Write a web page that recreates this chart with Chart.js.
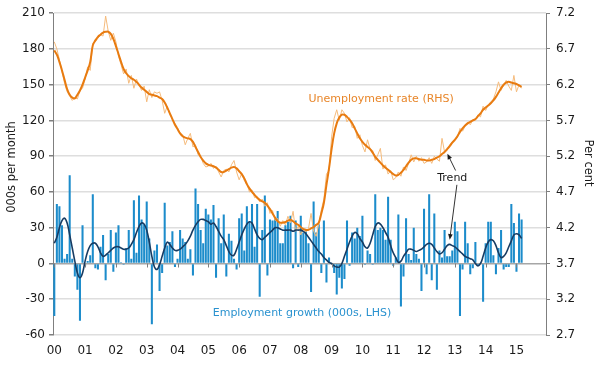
<!DOCTYPE html>
<html>
<head>
<meta charset="utf-8">
<script src="https://cdn.jsdelivr.net/npm/chart.js@4.4.1/dist/chart.umd.min.js"></script>
<style>
  html, body { margin: 0; padding: 0; background: #fff; }
  #wrap { width: 599px; height: 365px; position: relative; }
</style>
</head>
<body>
<div id="wrap"><canvas id="chart"></canvas></div>
<script>
// years shown on the axis, one label per January
const years = ["00", "01", "02", "03", "04", "05", "06", "07", "08", "09", "10", "11", "12", "13", "14", "15"];

// employment growth, 000s per month (Jan 2000 - Mar 2015)
const empGrowth = [
  -44, 50, 48, 32, 4, 8, 74, 4, -11, -22, -48, 32,
  -2, 2, 7, 58, -4, -5, 14, 24, -14, 8, 28, -7,
  26, 32, 1, -1, 13, 28, 4, 53, 9, 57, 37, 33,
  52, 21, -51, 11, 16, -23, -8, 51, 15, 18, 27, -3,
  4, 28, 21, 18, 4, 12, -10, 63, 50, 28, 17, 46,
  41, 37, 49, -12, 38, 17, 41, -11, 25, 19, 4, -5,
  38, 42, 11, 48, 35, 50, 14, 50, -28, 28, 57, -10,
  37, 36, 39, 44, 17, 17, 32, 35, 40, -4, 36, -3,
  40, 26, 28, 17, -24, 52, 26, 33, -8, 36, -16, 5,
  0, -8, -26, -12, -21, -13, 36, -2, 26, 21, 30, 23,
  40, -1, 11, 8, -1, 58, 28, 30, 28, 20, 56, 20,
  -2, 5, 41, -36, -11, 38, 8, 3, 30, 8, 4, -23,
  46, -9, 58, -14, 42, -22, 11, 5, 28, 6, 6, 11,
  35, 27, -44, -5, 35, 17, -9, -4, 18, -2, 0, -32,
  17, 35, 35, 7, -9, 13, 28, -5, -3, -3, 50, 34,
  -7, 42, 37
];

// employment growth trend
const empTrend = [
  17, 22, 30, 36, 38, 34, 24, 13, 2, -8, -12, -8,
  2, 10, 15, 17, 17, 14, 9, 6, 7, 9, 11, 13,
  14, 14, 13, 12, 12, 13, 16, 20, 26, 31, 34, 33,
  28, 18, 6, -3, -5, -1, 6, 13, 18, 16, 13, 11,
  11, 12, 14, 16, 19, 23, 28, 32, 35, 37, 37, 36,
  35, 33, 34, 31, 27, 23, 20, 15, 10, 7, 7, 12,
  18, 24, 29, 33, 35, 34, 29, 24, 21, 20, 22, 24,
  26, 28, 30, 30, 29, 28, 28, 28, 28, 27, 28, 28,
  28, 27, 25, 22, 19, 16, 13, 10, 8, 5, 3, 1,
  0, -2, -3, -3, 0, 6, 12, 18, 23, 26, 25, 21,
  18, 14, 13, 17, 24, 31, 34, 33, 30, 26, 22, 15,
  9, 5, 1, 2, 6, 9, 12, 12, 11, 10, 11, 12,
  14, 16, 17, 16, 13, 10, 8, 9, 12, 15, 16, 15,
  14, 12, 10, 8, 6, 5, 4, 3, 0, -2, 0, 6,
  13, 18, 20, 19, 15, 9, 5, 6, 9, 14, 19, 24,
  25, 24, 21
];

// unemployment rate, per cent
const unempRate = [
  6.80, 6.70, 6.55, 6.38, 6.22, 6.10, 6.04, 5.98, 6.02, 6.00, 6.12, 6.15,
  6.28, 6.45, 6.40, 6.78, 6.80, 6.85, 6.90, 6.88, 7.16, 6.95, 6.82, 6.92,
  6.80, 6.60, 6.48, 6.35, 6.42, 6.22, 6.33, 6.15, 6.28, 6.20, 6.12, 6.18,
  5.96, 6.13, 6.02, 6.10, 6.08, 6.10, 5.98, 5.80, 5.90, 5.78, 5.72, 5.66,
  5.60, 5.52, 5.50, 5.36, 5.45, 5.52, 5.33, 5.36, 5.22, 5.20, 5.10, 5.05,
  5.06, 5.10, 5.03, 5.06, 4.98, 4.91, 5.00, 5.02, 4.98, 5.08, 5.14, 4.98,
  4.87, 4.96, 4.86, 4.82, 4.70, 4.73, 4.62, 4.64, 4.56, 4.60, 4.50, 4.55,
  4.40, 4.44, 4.30, 4.33, 4.22, 4.30, 4.24, 4.36, 4.27, 4.43, 4.15, 4.22,
  4.10, 4.20, 4.14, 4.19, 4.40, 4.15, 4.08, 4.25, 4.45, 4.60, 4.95, 5.00,
  5.47, 5.73, 5.85, 5.70, 5.85, 5.80, 5.68, 5.74, 5.60, 5.62, 5.45, 5.50,
  5.35, 5.26, 5.43, 5.30, 5.28, 5.14, 5.22, 5.31, 5.02, 5.08, 4.95, 5.00,
  4.87, 4.90, 4.98, 4.92, 5.05, 5.00, 5.10, 5.22, 5.12, 5.20, 5.13, 5.18,
  5.10, 5.12, 5.18, 5.10, 5.20, 5.16, 5.13, 5.45, 5.26, 5.28, 5.36, 5.40,
  5.44, 5.46, 5.59, 5.55, 5.62, 5.68, 5.64, 5.71, 5.70, 5.78, 5.75, 5.90,
  5.84, 5.92, 5.96, 6.00, 6.10, 6.24, 6.12, 6.20, 6.26, 6.18, 6.12, 6.33,
  6.10, 6.20, 6.15
];

// unemployment rate trend
const unempTrend = [
  6.68, 6.62, 6.52, 6.40, 6.27, 6.14, 6.06, 6.02, 6.01, 6.06, 6.12, 6.20,
  6.30, 6.40, 6.52, 6.75, 6.82, 6.87, 6.90, 6.93, 6.94, 6.94, 6.91, 6.84,
  6.74, 6.63, 6.52, 6.42, 6.36, 6.32, 6.29, 6.27, 6.24, 6.20, 6.16, 6.13,
  6.10, 6.07, 6.06, 6.05, 6.04, 6.02, 6.00, 5.95, 5.88, 5.80, 5.72, 5.64,
  5.58, 5.52, 5.48, 5.46, 5.45, 5.44, 5.40, 5.33, 5.26, 5.19, 5.14, 5.10,
  5.08, 5.07, 5.06, 5.04, 5.01, 4.98, 4.98, 5.00, 5.02, 5.04, 5.05, 5.03,
  4.99, 4.95, 4.89, 4.81, 4.75, 4.70, 4.66, 4.62, 4.59, 4.57, 4.55, 4.51,
  4.46, 4.40, 4.34, 4.29, 4.27, 4.27, 4.28, 4.30, 4.31, 4.29, 4.26, 4.24,
  4.21, 4.18, 4.17, 4.17, 4.19, 4.21, 4.24, 4.27, 4.40, 4.55, 4.80, 5.03,
  5.30, 5.52, 5.66, 5.74, 5.78, 5.78, 5.75, 5.71, 5.66, 5.59, 5.52, 5.45,
  5.40, 5.36, 5.33, 5.30, 5.25, 5.19, 5.15, 5.11, 5.07, 5.04, 5.01, 4.98,
  4.95, 4.93, 4.94, 4.97, 5.01, 5.06, 5.11, 5.15, 5.17, 5.17, 5.16, 5.15,
  5.15, 5.14, 5.14, 5.15, 5.16, 5.18, 5.20, 5.23, 5.26, 5.30, 5.34, 5.39,
  5.43, 5.48, 5.54, 5.59, 5.63, 5.66, 5.68, 5.70, 5.72, 5.76, 5.80, 5.85,
  5.88, 5.91, 5.94, 5.98, 6.03, 6.09, 6.15, 6.20, 6.23, 6.24, 6.23, 6.22,
  6.21, 6.19, 6.17
];

const leftTicks = [-60, -30, 0, 30, 60, 90, 120, 150, 180, 210];
const rightTicks = [2.7, 3.2, 3.7, 4.2, 4.7, 5.2, 5.7, 6.2, 6.7, 7.2];

// one category per month, 2000-01 .. 2015-12
const months = [];
years.forEach(yr => {
  for (let m = 1; m <= 12; m++) months.push(yr + "-" + String(m).padStart(2, "0"));
});

const FONT = "'DejaVu Sans', Verdana, sans-serif";
Chart.defaults.font.family = FONT;
Chart.defaults.font.size = 12;
Chart.defaults.color = "#1a1a1a";

const drawArrow = (ctx, x1, y1, x2, y2) => {
  const ang = Math.atan2(y2 - y1, x2 - x1);
  ctx.beginPath();
  ctx.moveTo(x1, y1);
  ctx.lineTo(x2 - 4 * Math.cos(ang), y2 - 4 * Math.sin(ang));
  ctx.stroke();
  ctx.beginPath();
  ctx.moveTo(x2, y2);
  ctx.lineTo(x2 - 6 * Math.cos(ang - 0.4), y2 - 6 * Math.sin(ang - 0.4));
  ctx.lineTo(x2 - 6 * Math.cos(ang + 0.4), y2 - 6 * Math.sin(ang + 0.4));
  ctx.closePath();
  ctx.fill();
};

// text labels, year ticks on the zero line and the Trend arrows
const overlay = {
  id: "overlay",
  afterDatasetsDraw(chart) {
    const { ctx, scales } = chart;
    const x = scales.x, y = scales.y;
    const px = (m) => x.getPixelForValue(Math.floor(m)) + (m % 1) * (x.getPixelForValue(1) - x.getPixelForValue(0));
    const y0 = Math.round(y.getPixelForValue(0)) + 0.5;

    ctx.save();
    ctx.strokeStyle = "#7f7f7f";
    ctx.lineWidth = 1;
    years.forEach((yr, i) => {
      const tx = Math.round(x.getPixelForValue(i * 12)) + 0.5;
      ctx.beginPath();
      ctx.moveTo(tx, y0);
      ctx.lineTo(tx, y0 + 4);
      ctx.stroke();
    });

    ctx.font = "11px " + FONT;
    ctx.textBaseline = "middle";
    ctx.textAlign = "left";
    ctx.fillStyle = "#e8862a";
    ctx.fillText("Unemployment rate (RHS)", px(99), y.getPixelForValue(138));
    ctx.fillStyle = "#2a92cf";
    ctx.fillText("Employment growth (000s, LHS)", px(61.7), y.getPixelForValue(-41.5));
    ctx.fillStyle = "#1a1a1a";
    ctx.textAlign = "center";
    ctx.fillText("Trend", px(155), y.getPixelForValue(72));

    ctx.strokeStyle = "#333";
    ctx.fillStyle = "#1a1a1a";
    drawArrow(ctx, px(156.3), y.getPixelForValue(78), px(153.1), y.getPixelForValue(92));
    drawArrow(ctx, px(156.8), y.getPixelForValue(66), px(154.0), y.getPixelForValue(20));

    // axis titles
    ctx.font = "11.5px " + FONT;
    ctx.fillStyle = "#1a1a1a";
    ctx.save();
    ctx.translate(12, 167);
    ctx.rotate(-Math.PI / 2);
    ctx.fillText("000s per month", 0, 0);
    ctx.restore();
    ctx.save();
    ctx.translate(588, 163);
    ctx.rotate(Math.PI / 2);
    ctx.fillText("Per cent", 0, 0);
    ctx.restore();
    ctx.restore();
  }
};

new Chart(document.getElementById("chart"), {
  type: "bar",
  data: {
    labels: months,
    datasets: [
      {
        type: "line",
        label: "Unemployment trend",
        data: unempTrend,
        yAxisID: "y1",
        borderColor: "#e87b10",
        borderWidth: 2,
        pointRadius: 0,
        tension: 0.4,
        order: 1
      },
      {
        type: "line",
        label: "Employment trend",
        data: empTrend,
        yAxisID: "y",
        borderColor: "#173c63",
        borderWidth: 1.6,
        pointRadius: 0,
        tension: 0.4,
        order: 2
      },
      {
        type: "line",
        label: "Unemployment rate",
        data: unempRate,
        yAxisID: "y1",
        borderColor: "#f5bb7c",
        borderWidth: 1,
        pointRadius: 0,
        tension: 0,
        order: 3
      },
      {
        label: "Employment growth",
        data: empGrowth,
        yAxisID: "y",
        backgroundColor: "#1c8ccb",
        barPercentage: 0.8,
        categoryPercentage: 1,
        order: 4
      }
    ]
  },
  options: {
    responsive: true,
    maintainAspectRatio: false,
    animation: false,
    layout: { padding: { top: 13, left: 0, right: 0, bottom: 0 } },
    plugins: { legend: { display: false }, tooltip: { enabled: false } },
    scales: {
      x: {
        grid: { display: false, drawTicks: false },
        border: { display: false },
        ticks: {
          autoSkip: false,
          maxRotation: 0,
          padding: 9,
          callback: (v, i) => (i % 12 === 0 ? years[i / 12] : null)
        },
        afterFit: s => { s.height = 30; }
      },
      y: {
        position: "left",
        min: -60,
        max: 210,
        afterBuildTicks: s => { s.ticks = leftTicks.map(v => ({ value: v })); },
        grid: {
          color: c => (c.tick && c.tick.value === 0 ? "#a6a6a6" : "#dedede"),
          lineWidth: c => (c.tick && c.tick.value === 0 ? 1.5 : 1.5),
          tickLength: 4,
          tickColor: "#7f7f7f"
        },
        border: { display: true, color: "#7f7f7f" },
        ticks: { padding: 4 },
        afterFit: s => { s.width = 53; }
      },
      y1: {
        position: "right",
        min: 2.7,
        max: 7.2,
        afterBuildTicks: s => { s.ticks = rightTicks.map(v => ({ value: v })); },
        grid: { drawOnChartArea: false, tickLength: 4, tickColor: "#7f7f7f" },
        border: { display: true, color: "#7f7f7f" },
        ticks: { padding: 6, callback: v => v.toFixed(1) },
        afterFit: s => { s.width = 53; }
      }
    }
  },
  plugins: [overlay]
});
</script>
</body>
</html>
